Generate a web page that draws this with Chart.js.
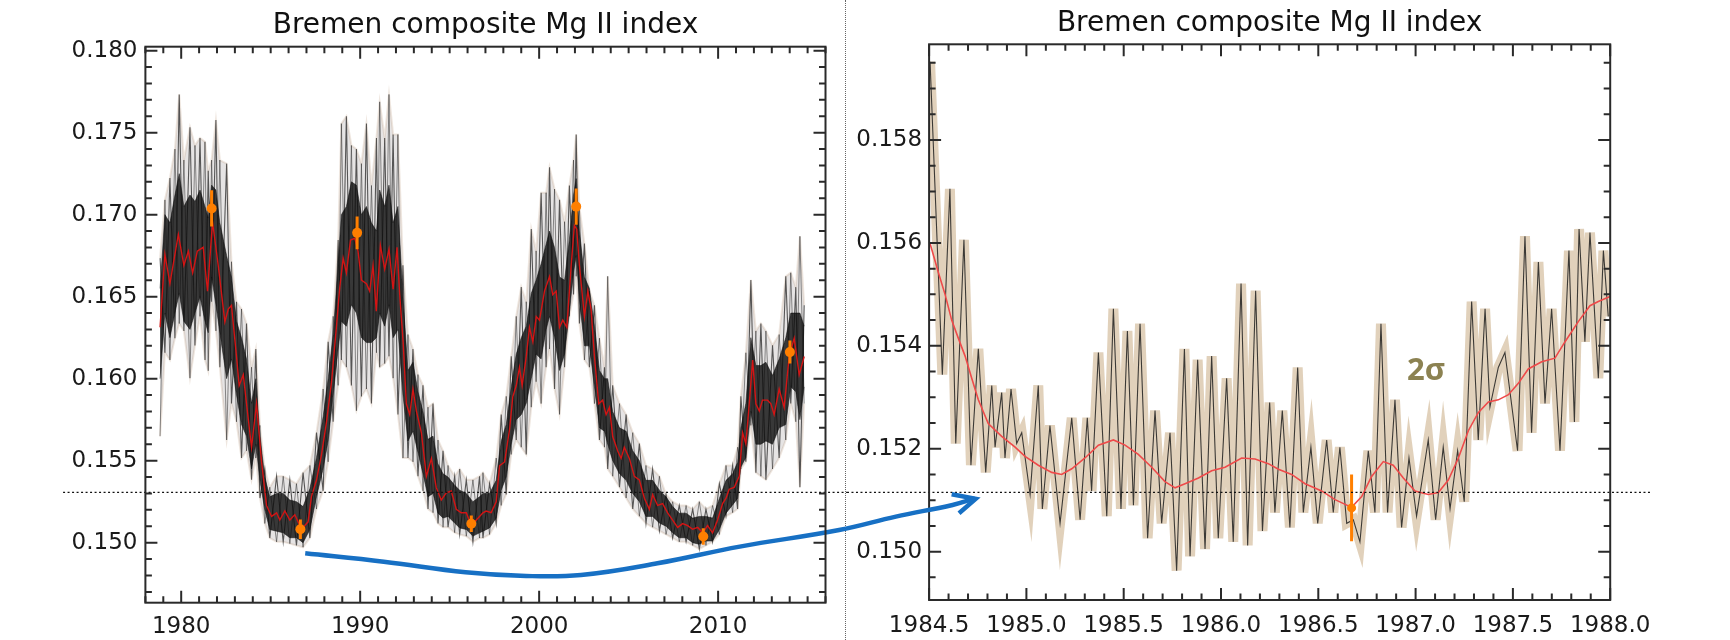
<!DOCTYPE html>
<html>
<head>
<meta charset="utf-8">
<script src="https://cdn.jsdelivr.net/npm/chart.js@4.4.1/dist/chart.umd.min.js"></script>
<style>
  body { margin: 0; background: #fff; }
  #wrap { position: relative; width: 1730px; height: 640px; overflow: hidden; }
  canvas { position: absolute; left: 0; top: 0; }
  #divider { position: absolute; left: 845px; top: 0; height: 640px; border-left: 1px dotted #666; }
</style>
</head>
<body>
<div id="wrap">
  <canvas id="zoomChart" width="1730" height="640"></canvas>
  <div id="divider"></div>
  <canvas id="fullChart" width="1730" height="640"></canvas>
</div>
<script>
// ---- left panel: whole record ----
const fullRedYears = [1978.82,1979.09,1979.37,1979.84,1980.15,1980.40,1980.64,1980.90,1981.23,1981.47,
  1981.75,1982.07,1982.44,1982.63,1982.81,1983.09,1983.24,1983.47,1983.65,1983.93,
  1984.21,1984.49,1984.77,1985.05,1985.33,1985.51,1985.79,1986.07,1986.35,1986.72,
  1987.09,1987.28,1987.56,1987.84,1988.12,1988.40,1988.67,1988.86,1989.05,1989.23,
  1989.46,1989.70,1989.88,1990.07,1990.35,1990.53,1990.72,1990.90,1991.13,1991.37,
  1991.61,1991.84,1992.06,1992.21,1992.40,1992.58,1992.77,1992.95,1993.14,1993.42,
  1993.70,1993.98,1994.25,1994.53,1994.81,1995.09,1995.37,1995.65,1995.93,1996.21,
  1996.49,1996.86,1997.04,1997.32,1997.60,1997.79,1998.07,1998.35,1998.53,1998.72,
  1998.90,1999.05,1999.28,1999.46,1999.65,1999.84,2000.02,2000.30,2000.58,2000.76,
  2000.95,2001.14,2001.32,2001.55,2001.79,2001.97,2002.10,2002.25,2002.53,2002.72,
  2002.90,2003.09,2003.33,2003.55,2003.74,2003.93,2004.11,2004.39,2004.58,2004.76,
  2005.04,2005.32,2005.60,2005.88,2006.16,2006.34,2006.62,2006.90,2007.18,2007.46,
  2007.74,2008.02,2008.30,2008.58,2008.86,2009.14,2009.41,2009.69,2009.97,2010.25,
  2010.44,2010.62,2010.90,2011.18,2011.37,2011.55,2011.74,2011.93,2012.11,2012.30,
  2012.48,2012.76,2012.95,2013.13,2013.41,2013.69,2013.97,2014.25,2014.53,2014.81];
const fullRedValues = [0.16313,0.16757,0.16580,0.16879,0.16691,0.16778,0.16645,0.16778,0.16801,0.16534,
  0.16956,0.16690,0.16346,0.16424,0.16446,0.16135,0.15958,0.16024,0.15847,0.15582,
  0.15847,0.15492,0.15227,0.15160,0.15182,0.15138,0.15193,0.15138,0.15171,0.15082,
  0.15127,0.15282,0.15382,0.15537,0.15737,0.15980,0.16313,0.16557,0.16734,0.16645,
  0.16845,0.16856,0.16778,0.16601,0.16579,0.16534,0.16690,0.16412,0.16812,0.16668,
  0.16789,0.16545,0.16801,0.16512,0.16224,0.15847,0.15781,0.15936,0.15803,0.15670,
  0.15404,0.15514,0.15337,0.15260,0.15304,0.15315,0.15204,0.15182,0.15182,0.15104,
  0.15138,0.15182,0.15193,0.15183,0.15249,0.15470,0.15492,0.15693,0.15891,0.15958,
  0.16069,0.15958,0.16135,0.16313,0.16224,0.16379,0.16357,0.16534,0.16623,0.16512,
  0.16534,0.16313,0.16357,0.16313,0.16690,0.16934,0.16911,0.16690,0.16379,0.16534,
  0.16424,0.16135,0.15847,0.15869,0.15781,0.15825,0.15647,0.15559,0.15514,0.15582,
  0.15514,0.15404,0.15382,0.15271,0.15204,0.15293,0.15227,0.15238,0.15182,0.15138,
  0.15093,0.15116,0.15104,0.15082,0.15093,0.15060,0.15104,0.15060,0.15138,0.15238,
  0.15271,0.15326,0.15337,0.15404,0.15670,0.15603,0.15847,0.16113,0.15847,0.15803,
  0.15869,0.15869,0.15847,0.15781,0.15936,0.15825,0.16135,0.16246,0.16024,0.16135];

// spread of the daily values: spike tips and the dense dark core
const fullBandYears = [1978.82,1979.09,1979.37,1979.65,1979.89,1980.15,1980.49,1980.77,1981.05,1981.33,
  1981.51,1981.70,1981.94,1982.16,1982.54,1982.81,1983.09,1983.37,1983.65,1983.93,
  1984.17,1984.40,1984.67,1984.95,1985.33,1985.70,1986.07,1986.44,1986.81,1987.19,
  1987.56,1987.93,1988.21,1988.49,1988.77,1988.95,1989.23,1989.51,1989.79,1990.07,
  1990.35,1990.63,1990.91,1991.09,1991.37,1991.61,1991.84,1992.11,1992.39,1992.67,
  1992.95,1993.23,1993.51,1993.79,1994.07,1994.35,1994.63,1994.91,1995.28,1995.56,
  1995.93,1996.30,1996.67,1996.86,1997.23,1997.60,1997.88,1998.16,1998.44,1998.72,
  1999.00,1999.28,1999.56,1999.83,2000.11,2000.39,2000.58,2000.86,2001.14,2001.42,
  2001.69,2001.92,2002.07,2002.25,2002.53,2002.81,2003.09,2003.37,2003.65,2003.83,
  2004.11,2004.49,2004.86,2005.23,2005.60,2005.97,2006.34,2006.72,2007.09,2007.46,
  2007.83,2008.21,2008.58,2008.95,2009.32,2009.69,2010.07,2010.44,2010.81,2011.09,
  2011.27,2011.55,2011.83,2012.11,2012.39,2012.67,2013.04,2013.41,2013.78,2014.06,
  2014.34,2014.57,2014.81];
const fullBandHigh = [0.16735,0.17090,0.17223,0.17400,0.17733,0.17333,0.17533,0.17422,0.17467,0.17444,
  0.17267,0.17333,0.17577,0.17333,0.17311,0.16713,0.16469,0.16425,0.16336,0.16070,
  0.16181,0.15715,0.15449,0.15338,0.15405,0.15405,0.15383,0.15360,0.15427,0.15471,
  0.15671,0.15937,0.16225,0.16380,0.16846,0.17555,0.17600,0.17422,0.17400,0.17311,
  0.17555,0.17178,0.17467,0.17688,0.17467,0.17733,0.17489,0.17489,0.16691,0.16269,
  0.16181,0.16025,0.15959,0.15826,0.15848,0.15626,0.15560,0.15471,0.15405,0.15449,
  0.15383,0.15383,0.15405,0.15427,0.15360,0.15516,0.15782,0.15892,0.16136,0.16380,
  0.16558,0.16469,0.16912,0.16779,0.17134,0.17134,0.17289,0.17156,0.17090,0.16957,
  0.17178,0.17333,0.17489,0.17045,0.16824,0.16535,0.16447,0.16247,0.16070,0.16624,
  0.15959,0.15848,0.15782,0.15671,0.15604,0.15471,0.15449,0.15405,0.15294,0.15250,
  0.15227,0.15227,0.15205,0.15250,0.15205,0.15227,0.15360,0.15471,0.15471,0.15582,
  0.15892,0.16158,0.16602,0.16291,0.16336,0.16291,0.16203,0.16269,0.16624,0.16646,
  0.16558,0.16868,0.16447];
const fullBandLow = [0.15649,0.16158,0.16114,0.16247,0.16336,0.16291,0.16003,0.16203,0.16380,0.16114,
  0.16048,0.16469,0.16291,0.16070,0.15626,0.15848,0.15737,0.15516,0.15560,0.15383,
  0.15516,0.15272,0.15117,0.15028,0.15005,0.15005,0.14994,0.14983,0.14972,0.15028,
  0.15205,0.15316,0.15493,0.15737,0.15959,0.16114,0.16070,0.15959,0.15804,0.15892,
  0.15937,0.15848,0.16158,0.16070,0.16092,0.16136,0.16003,0.15782,0.15516,0.15516,
  0.15493,0.15405,0.15316,0.15205,0.15183,0.15117,0.15094,0.15094,0.15061,0.15050,
  0.15039,0.15005,0.15028,0.15028,0.15050,0.15117,0.15227,0.15294,0.15538,0.15626,
  0.15582,0.15538,0.15826,0.15981,0.15848,0.16070,0.16181,0.15937,0.15782,0.16070,
  0.16380,0.16513,0.16624,0.16336,0.16114,0.16070,0.15848,0.15626,0.15582,0.15449,
  0.15405,0.15338,0.15272,0.15205,0.15161,0.15117,0.15094,0.15072,0.15050,0.15028,
  0.15005,0.15005,0.14983,0.14961,0.14983,0.15005,0.15050,0.15161,0.15183,0.15205,
  0.15449,0.15493,0.15715,0.15427,0.15405,0.15383,0.15449,0.15516,0.15626,0.15848,
  0.15737,0.15338,0.15848];
const fullCoreHigh = [0.1655,0.1700,0.1695,0.1712,0.1725,0.1705,0.1712,0.1708,0.1715,0.1705,
  0.1698,0.1718,0.1715,0.1695,0.1675,0.1662,0.1635,0.1625,0.1612,0.1585,
  0.1600,0.1565,0.1540,0.1528,0.1530,0.1530,0.1526,0.1525,0.1522,0.1533,
  0.1552,0.1577,0.1600,0.1627,0.1670,0.1700,0.1705,0.1720,0.1718,0.1700,
  0.1705,0.1695,0.1690,0.1715,0.1705,0.1718,0.1695,0.1705,0.1650,0.1605,
  0.1610,0.1592,0.1580,0.1563,0.1565,0.1548,0.1542,0.1540,0.1535,0.1532,
  0.1530,0.1525,0.1528,0.1530,0.1530,0.1538,0.1562,0.1572,0.1595,0.1615,
  0.1625,0.1632,0.1652,0.1660,0.1670,0.1682,0.1690,0.1680,0.1662,0.1660,
  0.1685,0.1712,0.1722,0.1690,0.1662,0.1655,0.1632,0.1605,0.1600,0.1600,
  0.1580,0.1570,0.1568,0.1556,0.1550,0.1538,0.1538,0.1532,0.1528,0.1522,
  0.1518,0.1518,0.1515,0.1516,0.1516,0.1515,0.1527,0.1538,0.1542,0.1549,
  0.1570,0.1585,0.1625,0.1608,0.1608,0.1610,0.1602,0.1612,0.1625,0.1640,
  0.1640,0.1640,0.1632];
const fullCoreLow = [0.1600,0.1640,0.1625,0.1640,0.1652,0.1635,0.1630,0.1640,0.1650,0.1635,
  0.1628,0.1662,0.1645,0.1628,0.1600,0.1612,0.1590,0.1572,0.1565,0.1545,
  0.1560,0.1538,0.1520,0.1508,0.1507,0.1506,0.1503,0.1503,0.1500,0.1508,
  0.1528,0.1545,0.1562,0.1590,0.1618,0.1635,0.1632,0.1645,0.1640,0.1625,
  0.1622,0.1622,0.1625,0.1640,0.1632,0.1645,0.1625,0.1630,0.1590,0.1562,
  0.1568,0.1555,0.1542,0.1528,0.1530,0.1518,0.1515,0.1516,0.1512,0.1509,
  0.1508,0.1504,0.1506,0.1507,0.1509,0.1515,0.1532,0.1540,0.1560,0.1575,
  0.1578,0.1585,0.1600,0.1615,0.1612,0.1630,0.1638,0.1625,0.1605,0.1615,
  0.1640,0.1665,0.1675,0.1648,0.1620,0.1620,0.1595,0.1570,0.1568,0.1560,
  0.1550,0.1542,0.1538,0.1530,0.1525,0.1516,0.1516,0.1512,0.1510,0.1506,
  0.1503,0.1503,0.1500,0.1499,0.1501,0.1501,0.1508,0.1518,0.1523,0.1527,
  0.1546,0.1552,0.1580,0.1560,0.1560,0.1562,0.1560,0.1570,0.1572,0.1595,
  0.1592,0.1575,0.1595];

const fullMarkYears = [1981.70, 1986.66, 1989.83, 1996.21, 2002.07, 2009.17, 2014.01];
const fullMarkValues = [0.17038, 0.15082, 0.16889, 0.15115, 0.17049, 0.15038, 0.16162];
const fullMarkErrors = [0.0011, 0.0006, 0.0010, 0.0005, 0.0011, 0.0005, 0.0007];
const fullMinLevel = 0.15307;
const fullMinSpan = [1973.4, 2017.2];

const fullXLabels = ['1980', '1990', '2000', '2010'];
const fullYLabels = ['0.150', '0.155', '0.160', '0.165', '0.170', '0.175', '0.180'];

// ---- right panel: 1984.5 - 1988 ----
const zoomYears = [1984.505,1984.568,1984.607,1984.637,1984.679,1984.715,1984.753,1984.791,1984.822,1984.839,
  1984.873,1984.890,1984.921,1984.950,1984.976,1985.019,1985.061,1985.082,1985.121,1985.173,
  1985.233,1985.276,1985.313,1985.335,1985.370,1985.413,1985.447,1985.486,1985.519,1985.550,
  1985.584,1985.623,1985.661,1985.695,1985.738,1985.772,1985.812,1985.841,1985.880,1985.918,
  1985.952,1985.986,1986.029,1986.063,1986.103,1986.137,1986.178,1986.213,1986.250,1986.277,
  1986.315,1986.354,1986.394,1986.423,1986.462,1986.497,1986.543,1986.577,1986.611,1986.646,
  1986.680,1986.714,1986.757,1986.791,1986.822,1986.856,1986.894,1986.928,1986.966,1987.005,
  1987.065,1987.103,1987.142,1987.177,1987.216,1987.250,1987.288,1987.322,1987.357,1987.382,
  1987.425,1987.459,1987.524,1987.562,1987.596,1987.631,1987.665,1987.699,1987.742,1987.788,
  1987.816,1987.840,1987.870,1987.896,1987.939,1987.965,1987.990];
const zoomValues = [0.15952,0.15344,0.15705,0.15210,0.15606,0.15168,0.15394,0.15154,0.15323,0.15203,
  0.15309,0.15182,0.15316,0.15210,0.15231,0.15111,0.15323,0.15083,0.15245,0.15055,
  0.15260,0.15062,0.15260,0.15118,0.15387,0.15069,0.15472,0.15083,0.15429,0.15090,
  0.15443,0.15026,0.15274,0.15055,0.15231,0.14963,0.15394,0.14991,0.15373,0.15005,
  0.15380,0.15026,0.15337,0.15019,0.15521,0.15012,0.15507,0.15040,0.15290,0.15076,
  0.15274,0.15047,0.15358,0.15076,0.15203,0.15055,0.15217,0.15076,0.15203,0.15055,
  0.15062,0.15019,0.15196,0.15076,0.15443,0.15076,0.15295,0.15047,0.15182,0.15069,
  0.15217,0.15062,0.15203,0.15083,0.15196,0.15097,0.15486,0.15217,0.15472,0.15281,
  0.15358,0.15387,0.15196,0.15613,0.15231,0.15563,0.15288,0.15472,0.15196,0.15585,
  0.15252,0.15627,0.15408,0.15620,0.15337,0.15585,0.15457];

const zoomRedYears = [1984.505,1984.548,1984.582,1984.616,1984.650,1984.685,1984.719,1984.753,1984.804,1984.873,
  1984.942,1984.993,1985.061,1985.130,1985.181,1985.233,1985.301,1985.370,1985.447,1985.507,
  1985.575,1985.644,1985.712,1985.764,1985.815,1985.884,1985.952,1986.021,1986.106,1986.175,
  1986.243,1986.295,1986.363,1986.432,1986.517,1986.586,1986.671,1986.723,1986.774,1986.834,
  1986.885,1986.937,1986.997,1987.065,1987.117,1987.168,1987.220,1987.271,1987.322,1987.374,
  1987.425,1987.477,1987.528,1987.579,1987.648,1987.716,1987.768,1987.836,1987.896,1987.939,
  1987.999];
const zoomRedValues = [0.15599,0.15542,0.15500,0.15450,0.15415,0.15380,0.15337,0.15295,0.15249,0.15224,
  0.15203,0.15185,0.15168,0.15154,0.15150,0.15161,0.15182,0.15207,0.15217,0.15207,
  0.15189,0.15164,0.15136,0.15124,0.15132,0.15143,0.15157,0.15164,0.15182,0.15180,
  0.15171,0.15160,0.15150,0.15132,0.15118,0.15101,0.15086,0.15107,0.15146,0.15175,
  0.15168,0.15143,0.15118,0.15111,0.15115,0.15139,0.15182,0.15235,0.15270,0.15291,
  0.15295,0.15305,0.15327,0.15355,0.15369,0.15376,0.15408,0.15447,0.15478,0.15486,
  0.15496];

const zoomMarkYears = [1986.671];
const zoomMarkValues = [0.15085];
const zoomMarkErrors = [0.00065];
const zoomMinLevel = 0.15115;
const zoomMinSpan = [1984.078, 1988.21];

const zoomXLabels = ['1984.5', '1985.0', '1985.5', '1986.0', '1986.5', '1987.0', '1987.5', '1988.0'];
const zoomYLabels = ['0.150', '0.152', '0.154', '0.156', '0.158'];

// blue arrow, tip first, in left-panel units (it runs on into the right panel)
const arrowYears = [2024.35, 2023.10, 2019.93, 2016.76, 2011.21, 2006.61, 2002.34, 1999.27, 1995.89, 1991.32, 1986.93];
const arrowValues = [0.15270, 0.15230, 0.15159, 0.15077, 0.14976, 0.14874, 0.14803, 0.14797, 0.14820, 0.14884, 0.14935];
const arrowHeadYears = [2023.05, 2024.39, 2023.46];
const arrowHeadValues = [0.15295, 0.15267, 0.15179];

const TITLE = 'Bremen composite Mg II index';
const ORANGE = '#ff7f00';
const AXIS_FONT = { family: 'DejaVu Sans', size: 23 };

function pts(xs, ys) {
  return xs.map((x, i) => ({ x: x, y: ys[i] }));
}

function errBars(xs, ys, es) {
  const out = [];
  xs.forEach((x, i) => {
    out.push({ x: x, y: ys[i] - es[i] }, { x: x, y: ys[i] + es[i] }, { x: x, y: null });
  });
  return out;
}

function stepTicks(min, max, step) {
  const out = [];
  for (let k = Math.ceil(min / step - 1e-9); k * step <= max + 1e-9; k++) {
    out.push({ value: Math.round(k * step * 1e6) / 1e6 });
  }
  return out;
}

function labelFor(labels) {
  return (v) => labels.find((l) => Math.abs(parseFloat(l) - v) < 1e-7) || '';
}

// inward major/minor ticks on all four sides + frame
const boxTicks = {
  id: 'boxTicks',
  afterDatasetsDraw(chart) {
    const { ctx, chartArea: a, scales } = chart;
    const x = scales.x, y = scales.y;
    ctx.save();
    ctx.strokeStyle = '#2a2a2a';
    ctx.lineWidth = 2;
    ctx.beginPath();
    x.ticks.forEach((t) => {
      const px = x.getPixelForValue(t.value);
      const len = t.label ? 12 : 6.5;
      ctx.moveTo(px, a.bottom); ctx.lineTo(px, a.bottom - len);
      ctx.moveTo(px, a.top); ctx.lineTo(px, a.top + len);
    });
    y.ticks.forEach((t) => {
      const py = y.getPixelForValue(t.value);
      const len = t.label ? 12 : 6.5;
      ctx.moveTo(a.left, py); ctx.lineTo(a.left + len, py);
      ctx.moveTo(a.right, py); ctx.lineTo(a.right - len, py);
    });
    ctx.stroke();
    ctx.strokeRect(a.left, a.top, a.width, a.height);
    ctx.restore();
  }
};

// "2σ" note in the right panel
const sigmaNote = {
  id: 'sigmaNote',
  afterDatasetsDraw(chart, args, opts) {
    if (!opts.text) return;
    const { ctx, scales } = chart;
    ctx.save();
    ctx.font = 'bold 31px "Open Sans"';
    ctx.fillStyle = '#8c8252';
    ctx.textAlign = 'center';
    ctx.textBaseline = 'middle';
    ctx.fillText(opts.text, scales.x.getPixelForValue(opts.at[0]), scales.y.getPixelForValue(opts.at[1]));
    ctx.restore();
  }
};

function axes(xMin, xMax, xStep, xLabels, yMin, yMax, yStep, yLabels, yWidth, xHeight, xPad, yPad) {
  return {
    x: {
      type: 'linear', min: xMin, max: xMax,
      afterBuildTicks: (s) => { s.ticks = stepTicks(xMin, xMax, xStep); },
      afterFit: (s) => { s.height = xHeight; },
      grid: { display: false, drawTicks: false }, border: { display: false },
      ticks: { callback: labelFor(xLabels), autoSkip: false, maxRotation: 0, padding: xPad, color: '#1a1a1a', font: AXIS_FONT }
    },
    y: {
      type: 'linear', min: yMin, max: yMax,
      afterBuildTicks: (s) => { s.ticks = stepTicks(yMin, yMax, yStep); },
      afterFit: (s) => { s.width = yWidth; },
      grid: { display: false, drawTicks: false }, border: { display: false },
      ticks: { callback: labelFor(yLabels), autoSkip: false, padding: yPad, color: '#1a1a1a', font: AXIS_FONT }
    }
  };
}

// left chart (on top, transparent, so the arrow can run into the right panel)
new Chart(document.getElementById('fullChart'), {
  type: 'line',
  data: {
    datasets: [
      { data: pts(arrowYears, arrowValues), borderColor: '#1770c4', borderWidth: 4.5, tension: 0.4,
        pointRadius: 0, clip: false, order: 0 },
      { data: pts(arrowHeadYears, arrowHeadValues), borderColor: '#1770c4', borderWidth: 4.5,
        borderJoinStyle: 'miter', pointRadius: 0, clip: false, order: 0 },
      { data: pts(fullMarkYears, fullMarkValues), showLine: false, pointRadius: 5,
        pointBackgroundColor: ORANGE, pointBorderWidth: 0, order: 1 },
      { data: errBars(fullMarkYears, fullMarkValues, fullMarkErrors), borderColor: ORANGE, borderWidth: 3,
        pointRadius: 0, spanGaps: false, order: 2 },
      { data: pts(fullMinSpan, [fullMinLevel, fullMinLevel]), borderColor: '#111', borderWidth: 1.2,
        borderDash: [2, 2.5], pointRadius: 0, clip: false, order: 2.5 },
      { data: pts(fullRedYears, fullRedValues), borderColor: '#d41414', borderWidth: 1.4,
        pointRadius: 0, order: 3 },
      { data: pts(fullBandYears, fullCoreHigh), borderColor: 'rgba(10,10,10,0.5)', borderWidth: 1,
        backgroundColor: 'rgba(12,12,12,0.8)', fill: '+1', pointRadius: 0, order: 4 },
      { data: pts(fullBandYears, fullCoreLow), borderColor: 'rgba(10,10,10,0.5)', borderWidth: 1,
        pointRadius: 0, order: 4.5 },
      { data: fullBandYears.map((yr, i) => ({ x: yr, y: i % 2 ? fullBandLow[i] : fullBandHigh[i] })),
        borderColor: 'rgba(30,30,30,0.72)', borderWidth: 1.1, pointRadius: 0, order: 5 },
      { data: fullBandYears.map((yr, i) => ({ x: yr, y: i % 2 ? fullBandHigh[i] : fullBandLow[i] })),
        borderColor: 'rgba(50,50,50,0.55)', borderWidth: 1, pointRadius: 0, order: 5.5 },
      { data: pts(fullBandYears, fullBandHigh), borderColor: 'rgba(190,160,130,0.25)', borderWidth: 2,
        backgroundColor: 'rgba(60,50,45,0.13)', fill: '+1', pointRadius: 0, order: 6 },
      { data: pts(fullBandYears, fullBandLow), borderColor: 'rgba(190,160,130,0.25)', borderWidth: 2,
        pointRadius: 0, order: 7 }
    ]
  },
  options: {
    responsive: false, animation: false, devicePixelRatio: 1, events: [],
    layout: { padding: { left: 0, right: 904.5, top: 0, bottom: 0 } },
    scales: axes(1978, 2016, 1, fullXLabels, 0.14634, 0.18024, 0.001, fullYLabels, 145.4, 37.3, 11, 8),
    plugins: {
      legend: { display: false }, tooltip: { enabled: false },
      title: { display: true, text: TITLE, fullSize: false, color: '#111',
        font: { family: 'DejaVu Sans', size: 28, weight: 'normal' }, padding: { top: 9, bottom: 4.1 } }
    }
  },
  plugins: [boxTicks]
});

// right chart
new Chart(document.getElementById('zoomChart'), {
  type: 'line',
  data: {
    datasets: [
      { data: pts(zoomMinSpan, [zoomMinLevel, zoomMinLevel]), borderColor: '#111', borderWidth: 1.2,
        borderDash: [2, 2.5], pointRadius: 0, clip: false, order: 0 },
      { data: pts(zoomMarkYears, zoomMarkValues), showLine: false, pointRadius: 4.5,
        pointBackgroundColor: ORANGE, pointBorderWidth: 0, order: 1 },
      { data: errBars(zoomMarkYears, zoomMarkValues, zoomMarkErrors), borderColor: ORANGE, borderWidth: 3,
        pointRadius: 0, spanGaps: false, order: 2 },
      { data: pts(zoomRedYears, zoomRedValues), borderColor: '#ef4a4a', borderWidth: 1.6,
        pointRadius: 0, order: 3 },
      { data: pts(zoomYears, zoomValues), borderColor: 'rgba(30,30,30,0.85)', borderWidth: 1.1,
        pointRadius: 0, order: 4 },
      { data: pts(zoomYears, zoomValues), borderColor: 'rgba(200,172,132,0.55)', borderWidth: 10,
        borderJoinStyle: 'miter', pointRadius: 0, order: 5 }
    ]
  },
  options: {
    responsive: false, animation: false, devicePixelRatio: 1, events: [],
    layout: { padding: { left: 849.1, right: 119.8, top: 0, bottom: 0 } },
    scales: axes(1984.5, 1988.0, 0.1, zoomXLabels, 0.14906, 0.15986, 0.0005, zoomYLabels, 80, 40, 12, 7),
    plugins: {
      legend: { display: false }, tooltip: { enabled: false },
      title: { display: true, text: TITLE, fullSize: false, color: '#111',
        font: { family: 'DejaVu Sans', size: 28, weight: 'normal' }, padding: { top: 7, bottom: 3.7 } },
      sigmaNote: { text: '2σ', at: [1987.053, 0.15351] }
    }
  },
  plugins: [boxTicks, sigmaNote]
});
</script>
</body>
</html>
